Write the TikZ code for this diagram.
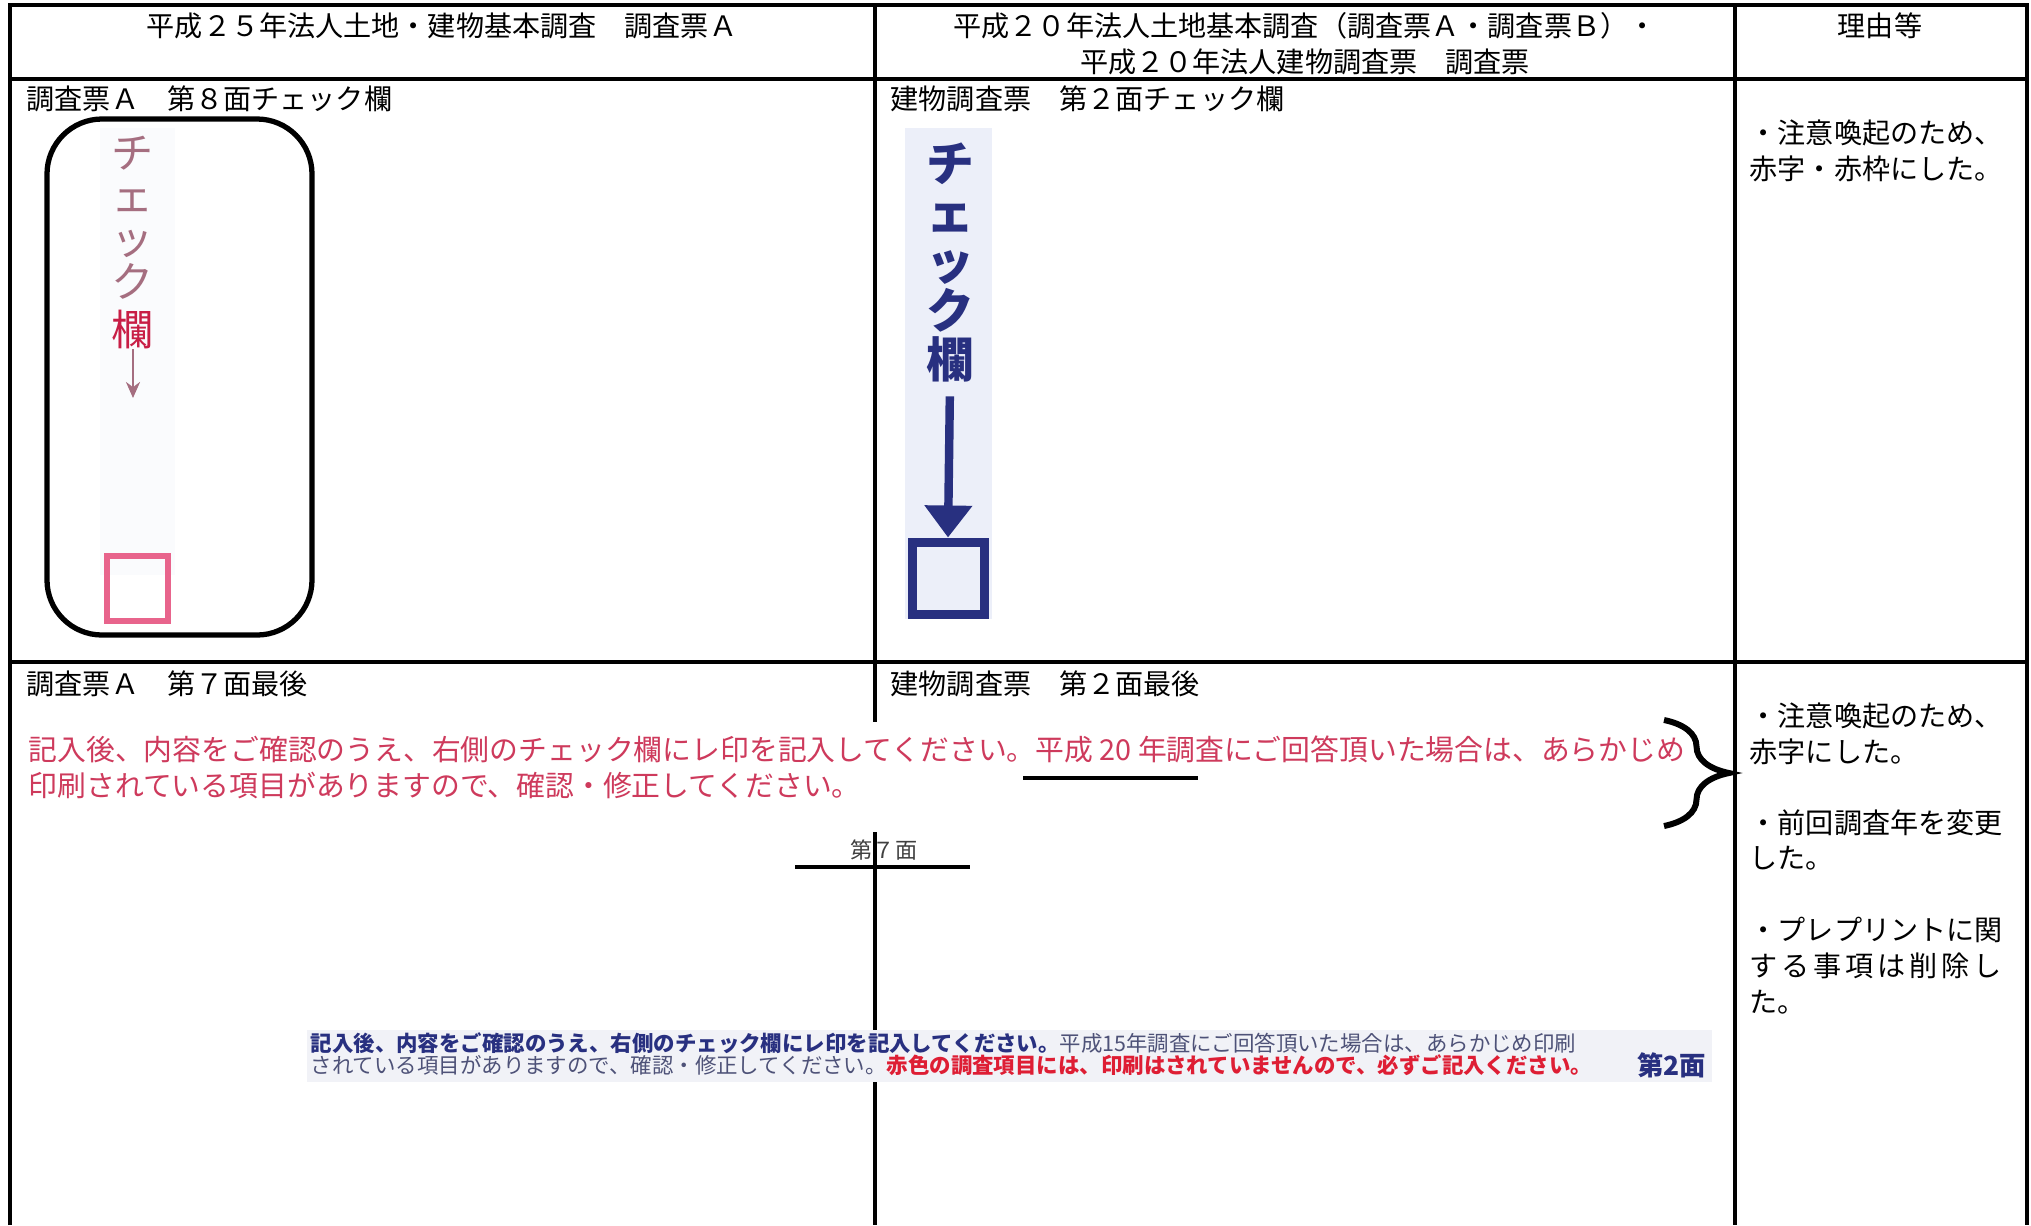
\documentclass[tikz,border=0pt]{standalone}
\usepackage{fontspec}
\setmainfont{Noto Sans CJK JP}
\usetikzlibrary{positioning,arrows.meta,decorations.pathreplacing}
\definecolor{navy}{RGB}{40,48,128}
\definecolor{navygray}{RGB}{78,82,120}
\definecolor{pinkred}{RGB}{206,58,92}
\definecolor{fadepink}{RGB}{165,110,128}
\definecolor{crimson}{RGB}{200,30,70}
\definecolor{boxpink}{RGB}{232,100,140}
\definecolor{brightred}{RGB}{222,30,52}
\definecolor{stripblue}{RGB}{236,239,249}
\definecolor{stripfade}{RGB}{250,251,253}
\definecolor{bandgray}{RGB}{241,242,247}

\begin{document}
\begin{tikzpicture}[x=0.1mm,y=-0.1mm,
  txt/.style={inner sep=0pt,font=\fontsize{8}{9.6}\selectfont},
  redtxt/.style={inner sep=0pt,anchor=base west,text=pinkred,font=\fontsize{8.2}{9.8}\selectfont},
  tiny/.style={inner sep=0pt,anchor=base west,font=\fontsize{6.1}{7}\selectfont},
  ckA/.style={inner sep=0pt,anchor=base,text=fadepink,font=\fontsize{12}{13}\selectfont},
  ckB/.style={inner sep=0pt,anchor=base,text=navy,font=\fontsize{13.6}{15}\selectfont\bfseries},
  rule/.style={line width=0.9pt},
  bar/.style={line width=1.4pt}]
\useasboundingbox (0,0) rectangle (2031,1225);

% the table
\draw[rule] (10,1225) -- (10,5) -- (2027,5) -- (2027,1225);
\draw[rule] (10,79) -- (2027,79);
\draw[rule] (10,662) -- (2027,662);
\draw[rule] (875,5) -- (875,1225);
\draw[rule] (1735,5) -- (1735,1225);

% the header row
\node[txt,anchor=base] (hdA) at (442,36) {平成２５年法人土地・建物基本調査　調査票Ａ};
\node[txt,anchor=base] (hdB) at (1305,36) {平成２０年法人土地基本調査（調査票Ａ・調査票Ｂ）・};
\node[txt,anchor=base] (hdBb) at (1305,72) {平成２０年法人建物調査票　調査票};
\node[txt,anchor=base] (hdC) at (1880,36) {理由等};

% the check column, new form
\node[txt,anchor=base west] (ttlA) at (26,109) {調査票Ａ　第８面チェック欄};
\fill[stripfade] (100,128) rectangle (175,575);
\draw[line width=1.5pt,rounded corners=5.5mm] (47,119) rectangle (312,635);
\foreach \ch [count=\i] in {チ,ェ,ッ,ク}
  \node[ckA] (a\i) at (133,125+43*\i) {\ch};
\node[ckA,text=crimson] (a5) at (133,345) {欄};
\coordinate (aend) at (133,398);
\draw[fadepink,line width=0.8pt,-{Stealth[length=1.6mm,width=1.4mm]}] (a5.south) -- (aend);
\node[draw=boxpink,line width=0.6mm,minimum width=6.1mm,minimum height=6.5mm,inner sep=0pt] (sq1) at (137,588) {};

% the check column, old form
\node[txt,anchor=base west] (ttlB) at (890,109) {建物調査票　第２面チェック欄};
\fill[stripblue] (905,128) rectangle (992,619);
\foreach \ch [count=\i] in {チ,ェ,ッ,ク,欄}
  \node[ckB] (b\i) at (950,132+49*\i) {\ch};
\node[draw=navy,line width=0.9mm,minimum size=7.2mm,inner sep=0pt] (sq2) at (948,578) {};
\draw[navy,line width=2.4pt,-{Triangle[width=4.6mm,length=3.2mm]},shorten <=1.4mm] (b5.south) -- (sq2.north);

% reasons, second row
\node[txt,anchor=base west] (rsA) at (1749,143) {・注意喚起のため、};
\node[txt,anchor=base west] (rsAb) at (1749,179) {赤字・赤枠にした。};

% last lines of the page
\node[txt,anchor=base west] (ttlC) at (26,694) {調査票Ａ　第７面最後};
\node[txt,anchor=base west] (ttlD) at (890,694) {建物調査票　第２面最後};
\fill[white] (20,722) rectangle (1700,832);
\node[redtxt] (msgA) at (28,760) {記入後、内容をご確認のうえ、右側のチェック欄にレ印を記入してください。平成 20 年調査にご回答頂いた場合は、あらかじめ};
\node[redtxt] (msgAb) at (28,796) {印刷されている項目がありますので、確認・修正してください。};
\draw[bar] (1023,778) -- (1198,778);
\node[inner sep=0pt,anchor=base,text=black!75,font=\fontsize{6.3}{7}\selectfont] (pgA) at (884,858) {第７面};
\draw[bar] (795,867) -- (970,867);
\coordinate (brtop) at (1664,720);
\coordinate (brbot) at (1664,826);
\draw[line width=1.7pt,decorate,decoration={brace,amplitude=6.5mm}] (brtop) -- (brbot);

% the old footer
\fill[bandgray] (307,1030) rectangle (1712,1082);
\node[tiny] (msgB) at (310,1051) {\textcolor{navy}{\bfseries 記入後、内容をご確認のうえ、右側のチェック欄にレ印を記入してください。}\textcolor{navygray}{平成15年調査にご回答頂いた場合は、あらかじめ印刷}};
\node[tiny] (msgBb) at (310,1073) {\textcolor{navygray}{されている項目がありますので、確認・修正してください。}\textcolor{brightred}{\bfseries 赤色の調査項目には、印刷はされていませんので、必ずご記入ください。}};
\node[inner sep=0pt,anchor=base east,text=navy,font=\fontsize{7.5}{8}\selectfont\bfseries] (pgB) at (1707,1075) {第2面};

% reasons, third row
\node[txt,anchor=base west] (rsB) at (1749,726) {・注意喚起のため、};
\node[txt,anchor=base west] (rsBb) at (1749,762) {赤字にした。};
\node[txt,anchor=base west] (rsC) at (1749,833) {・前回調査年を変更};
\node[txt,anchor=base west] (rsCb) at (1749,868) {した。};
\node[txt,anchor=base west] (rsD) at (1749,940) {・プレプリントに関};
\node[txt,anchor=base west] (rsDb) at (1749,976) {\makebox[25.2mm][s]{す\hfill る\hfill 事\hfill 項\hfill は\hfill 削\hfill 除\hfill し}};
\node[txt,anchor=base west] (rsDc) at (1749,1012) {た。};
\end{tikzpicture}
\end{document}
